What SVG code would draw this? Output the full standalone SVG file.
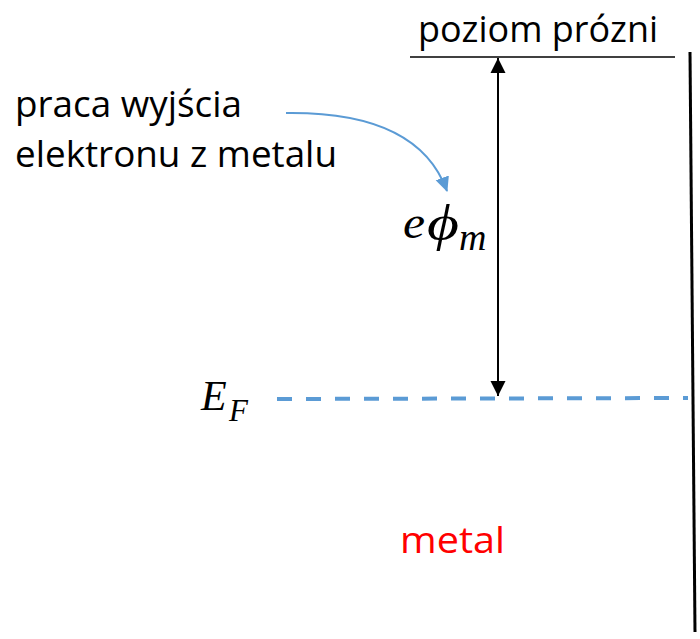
<svg xmlns="http://www.w3.org/2000/svg" width="700" height="639" viewBox="0 0 700 639">
<defs>
<marker id="ab" markerWidth="16" markerHeight="16" refX="15" refY="8" orient="auto-start-reverse" markerUnits="userSpaceOnUse"><path d="M0,0.5 L15,8 L0,15.5 Z" fill="#000"/></marker>
<marker id="ablue" markerWidth="16" markerHeight="16" refX="14" refY="8" orient="auto" markerUnits="userSpaceOnUse"><path d="M0,1 L15,8 L0,15 Z" fill="#5b9bd5"/></marker>
</defs>
<style>
.t{font-family:"Open Sans","Liberation Sans",sans-serif;font-size:37px;fill:#000}
.m{font-family:"Liberation Serif","DejaVu Serif",serif;font-style:italic;fill:#000}
</style>
<rect width="700" height="639" fill="#fff"/>
<g id="vacuum">
<line x1="410" y1="57" x2="675" y2="57" stroke="#000" stroke-width="1.3"/>
<text class="t" x="418" y="42" textLength="240" lengthAdjust="spacingAndGlyphs">poziom prózni</text>
</g>
<g id="surface"><line x1="690" y1="52" x2="695" y2="632" stroke="#000" stroke-width="3"/></g>
<g id="label"><text class="t" x="15" y="117" textLength="227" lengthAdjust="spacingAndGlyphs">praca wyjścia</text><text class="t" x="15" y="167" textLength="322" lengthAdjust="spacingAndGlyphs">elektronu z metalu</text></g>
<g id="phi">
<text class="m" x="403" y="238" font-size="46" textLength="22" lengthAdjust="spacingAndGlyphs">e</text>
<text class="m" x="427" y="240" font-size="50" textLength="32" lengthAdjust="spacingAndGlyphs">ϕ</text>
<text class="m" x="459" y="250" font-size="38">m</text>
</g>
<g id="ef">
<text class="m" x="201" y="410" font-size="42">E</text>
<text class="m" x="229" y="421" font-size="31">F</text>
</g>
<g id="metal"><text class="t" x="400" y="553" style="fill:#ff0000" font-size="42" textLength="105" lengthAdjust="spacingAndGlyphs">metal</text></g>
<g id="connectors">
<line x1="277" y1="399" x2="688" y2="398" stroke="#5b9bd5" stroke-width="4" stroke-dasharray="15,14"/>
<line x1="498" y1="58" x2="498" y2="396" stroke="#000" stroke-width="2" marker-start="url(#ab)" marker-end="url(#ab)"/>
<path d="M286,113 C360,112 425,130 447,191" fill="none" stroke="#5b9bd5" stroke-width="2" marker-end="url(#ablue)"/>
</g>
</svg>
